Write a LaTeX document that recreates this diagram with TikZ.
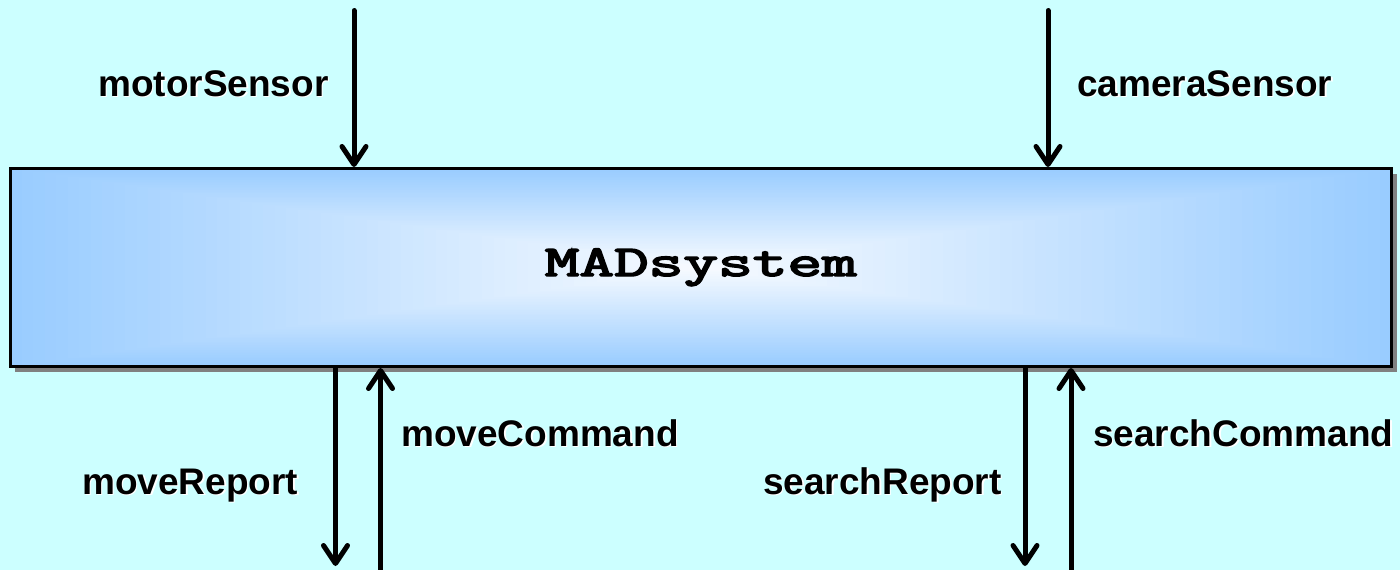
\documentclass[tikz,border=0pt]{standalone}
\usepackage{graphicx}
\usepackage{fontspec}
\setmainfont{Liberation Sans}
\newfontfamily\madfont{Latin Modern Mono}[AutoFakeBold=3.2]
\usetikzlibrary{arrows.meta,shadows,calc}

\definecolor{bgcyan}{RGB}{204,255,255}
\definecolor{boxblue}{RGB}{153,204,255}
\definecolor{boxcore}{RGB}{248,251,255}
\definecolor{shadowgray}{RGB}{128,128,128}

% label text with a thin white drop shadow
\newcommand\lbltext[1]{\makebox[0pt][l]{\kern1.5pt\raisebox{-1.5pt}{\textcolor{white}{#1}}}#1}

\tikzset{
  flow/.style={line width=5pt, line cap=round,
    -{Straight Barb[length=18pt,width=24pt,round]}},
  lbl/.style={font=\bfseries\fontsize{37}{40}\selectfont, inner sep=0pt, anchor=base west},
  sysbox/.style={draw=black, line width=3pt, inner sep=0pt,
    minimum width=1381.5pt, minimum height=198pt,
    drop shadow={shadow xshift=5pt, shadow yshift=-5pt, fill=shadowgray, opacity=1},
    path picture={
      % rectangular gradient: nested similar rectangles, blue rim to pale core
      \foreach \k in {0,...,59}{
        \pgfmathsetmacro\tt{1-\k/60}
        \pgfmathsetmacro\pp{100*\tt}
        \fill[boxblue!\pp!boxcore]
          ($(path picture bounding box.center)!\tt!(path picture bounding box.south west)$)
          rectangle
          ($(path picture bounding box.center)!\tt!(path picture bounding box.north east)$);
      }
    }},
  title/.style={font=\madfont\bfseries\fontsize{44}{47}\selectfont, inner sep=0pt, anchor=base}
}

\begin{document}
\begin{tikzpicture}[x=1pt, y=-1pt]
  \clip (0,0) rectangle (1400,570);
  \fill[bgcyan] (0,0) rectangle (1400,570);

  % the system block
  \node[sysbox] (sys) at (700.75,267.5) {};
  \node[title] (mad) at (700.75,276) {\scalebox{1.53}[1]{MADsystem}};

  % free ends of the connectors
  \coordinate (msTop) at (354,10.5);
  \coordinate (csTop) at (1048,10.5);
  \coordinate (mrEnd) at (335.5,566);
  \coordinate (mcStart) at (380.5,585);
  \coordinate (srEnd) at (1025,566);
  \coordinate (scStart) at (1071,585);

  % inputs from above
  \draw[flow] (msTop) -- (msTop |- sys.north);
  \draw[flow] (csTop) -- (csTop |- sys.north);

  % reports out of the bottom, commands into it
  \draw[flow] (sys.south -| mrEnd) -- (mrEnd);
  \draw[flow] (mcStart) -- (mcStart |- sys.south);
  \draw[flow] (sys.south -| srEnd) -- (srEnd);
  \draw[flow] (scStart) -- (scStart |- sys.south);

  % labels
  \node[lbl] (msLbl) at (98,96) {\lbltext{motorSensor}};
  \node[lbl] (csLbl) at (1077,96) {\lbltext{cameraSensor}};
  \node[lbl] (mcLbl) at (401,446) {\lbltext{moveCommand}};
  \node[lbl] (mrLbl) at (82,494) {\lbltext{moveReport}};
  \node[lbl] (srLbl) at (763,494) {\lbltext{searchReport}};
  \node[lbl] (scLbl) at (1093,446) {\lbltext{searchCommand}};
\end{tikzpicture}
\end{document}
